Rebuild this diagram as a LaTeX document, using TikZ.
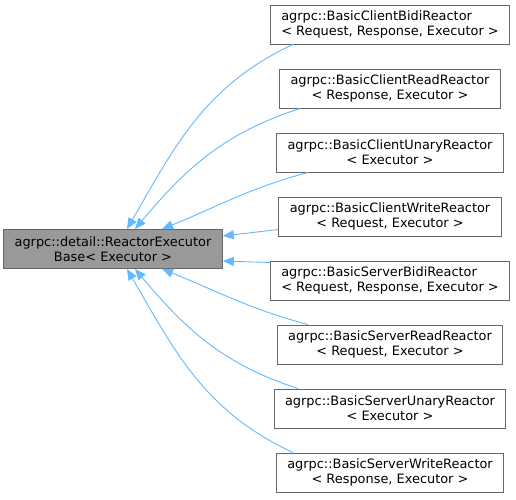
\documentclass[tikz,border=0pt]{standalone}
\usepackage{fontspec}
\setmainfont{DejaVu Sans}
\usetikzlibrary{positioning,arrows.meta}
\definecolor{edgeblue}{HTML}{63B8FF}
\definecolor{boxgray}{HTML}{666666}
\definecolor{basefill}{HTML}{999999}
\tikzset{
  cls/.style={draw=boxgray,fill=white,line width=0.9pt,minimum height=39pt,
    inner xsep=11pt,inner ysep=2pt,align=center,
    font=\fontsize{12.9}{15}\selectfont},
  inh/.style={draw=edgeblue,line width=0.9pt,-{Triangle[length=11pt,width=9pt]}},
}

\begin{document}
\begin{tikzpicture}[x=1pt,y=1pt,node distance=64pt,on grid]
  \useasboundingbox (0,0) rectangle (516,-499);
  \node[cls,fill=basefill] (base) at (113,-249) {agrpc::detail::ReactorExecutor\\Base< Executor >};
  \node[cls,align=left] (cbidi) at (390,-24.5) {agrpc::BasicClientBidiReactor\\< Request, Response, Executor >};
  \node[cls] (cread) [below=of cbidi] {agrpc::BasicClientReadReactor\\< Response, Executor >};
  \node[cls] (cunary) [below=of cread] {agrpc::BasicClientUnaryReactor\\< Executor >};
  \node[cls] (cwrite) [below=of cunary] {agrpc::BasicClientWriteReactor\\< Request, Executor >};
  \node[cls,align=left] (sbidi) [below=of cwrite] {agrpc::BasicServerBidiReactor\\< Request, Response, Executor >};
  \node[cls] (sread) [below=of sbidi] {agrpc::BasicServerReadReactor\\< Request, Executor >};
  \node[cls] (sunary) [below=of sread] {agrpc::BasicServerUnaryReactor\\< Executor >};
  \node[cls] (swrite) [below=of sunary] {agrpc::BasicServerWriteReactor\\< Response, Executor >};
  % client side
  \draw[inh] ([xshift=-97pt]cbidi.south) to[out=205,in=60] ([xshift=14pt]base.north);
  \draw[inh] ([xshift=-90pt]cread.south) to[out=198,in=50] ([xshift=22pt]base.north);
  \draw[inh] ([xshift=-82pt]cunary.south) to[out=195,in=22] ([xshift=49pt]base.north);
  \draw[inh] ([yshift=-13pt]cwrite.west) -- ([yshift=13pt]base.east);
  % server side
  \draw[inh] ([yshift=18pt]sbidi.west) -- ([yshift=-12pt]base.east);
  \draw[inh] ([xshift=-82pt]sread.north) to[out=165,in=-22] ([xshift=49pt]base.south);
  \draw[inh] ([xshift=-92pt]sunary.north) to[out=162,in=-50] ([xshift=22pt]base.south);
  \draw[inh] ([xshift=-97pt]swrite.north) to[out=155,in=-60] ([xshift=14pt]base.south);
\end{tikzpicture}
\end{document}
